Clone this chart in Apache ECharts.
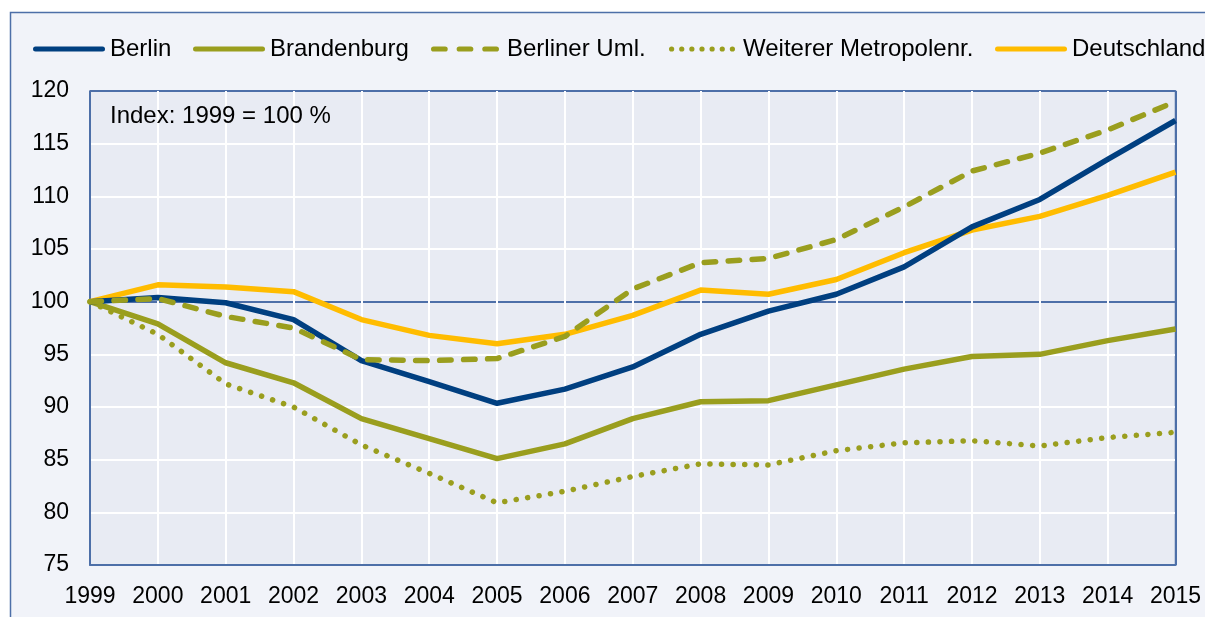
<!DOCTYPE html>
<html>
<head>
<meta charset="utf-8">
<script src="https://cdn.jsdelivr.net/npm/echarts@6/dist/echarts.min.js"></script>
<style>
html, body { margin: 0; padding: 0; background: #ffffff; }
#chart { width: 1205px; height: 617px; }
</style>
</head>
<body>
<div id="chart"></div>
<script>
// Index: 1999 = 100 %
var years = ['1999', '2000', '2001', '2002', '2003', '2004', '2005', '2006', '2007',
    '2008', '2009', '2010', '2011', '2012', '2013', '2014', '2015']
var berlin = [100, 100.4, 99.9, 98.3, 94.4, 92.4, 90.35, 91.7, 93.8, 96.9, 99.1, 100.7, 103.3, 107.1, 109.7, 113.5, 117.2]
var brandenburg = [100, 97.9, 94.2, 92.3, 88.9, 87.0, 85.1, 86.5, 88.9, 90.5, 90.6, 92.1, 93.6, 94.8, 95.0, 96.3, 97.4]
var berlinerUml = [100, 100.3, 98.6, 97.5, 94.5, 94.4, 94.6, 96.7, 101.2, 103.7, 104.1, 105.9, 109.0, 112.4, 114.1, 116.3, 119.0]
var weitererMetro = [100, 96.9, 92.2, 90.0, 86.4, 83.7, 80.9, 82.0, 83.4, 84.6, 84.5, 85.85, 86.6, 86.8, 86.3, 87.1, 87.6]
var deutschland = [100, 101.6, 101.4, 100.95, 98.3, 96.8, 96.0, 96.9, 98.7, 101.1, 100.7, 102.1, 104.65, 106.8, 108.1, 110.1, 112.3]
var yTicks = [75, 80, 85, 90, 95, 100, 105, 110, 115, 120]

var frameBlue = '#4d6fa8'
var navy = '#003f80'
var olive = '#9a9e1e'
var yellow = '#ffbc00'
var font = '"Liberation Sans", Arial, sans-serif'

// split line colours: border lines blue, 100-line blue, rest white
var ySplitColors = yTicks.map(function (v) {
    return (v === 100 || v === 120) ? frameBlue : '#ffffff'
})
var xSplitColors = years.map(function (y, i) {
    return (i === 0 || i === years.length - 1) ? frameBlue : '#ffffff'
})

// legend icons
function pill(x0, w) {
    return 'M' + (x0 + 2.5) + ',0 H' + (x0 + w - 2.5) + ' A2.5,2.5 0 0 1 ' + (x0 + w - 2.5) + ',5 H' +
        (x0 + 2.5) + ' A2.5,2.5 0 0 1 ' + (x0 + 2.5) + ',0 Z '
}
function dot(cx) {
    return 'M' + (cx - 2.5) + ',2.5 A2.5,2.5 0 1 0 ' + (cx + 2.5) + ',2.5 A2.5,2.5 0 1 0 ' + (cx - 2.5) + ',2.5 Z '
}
var solidIcon = 'path://' + pill(0, 72)
var dashIcon = 'path://' + pill(0, 16) + pill(24.5, 16) + pill(49, 16)
var dotIcon = 'path://'
for (var i = 0; i < 7; i++) dotIcon += dot(2.5 + i * 9.67)

function legendItem(name, left, icon, width, pad) {
    return {
        left: left,
        top: 32,
        itemWidth: width,
        itemHeight: 5.5,
        selectedMode: false,
        textStyle: { fontSize: 24, color: '#000000', fontFamily: font, padding: [0, 0, 0, pad || 0] },
        data: [{ name: name, icon: icon }]
    }
}

function lineSeries(name, data, color, type, width) {
    return {
        name: name,
        type: 'line',
        data: data,
        symbol: 'none',
        lineStyle: {
            color: color,
            width: width || 5.5,
            type: type || 'solid',
            cap: type ? 'round' : 'butt',
            join: 'round'
        },
        itemStyle: { color: color }
    }
}

var chart = echarts.init(document.getElementById('chart'))
var option = {
    backgroundColor: '#f1f3f9',
    animation: false,
    textStyle: { fontFamily: font },
    graphic: [
        { type: 'rect', shape: { x: 0, y: 0, width: 1205, height: 12 }, style: { fill: '#ffffff' }, silent: true },
        { type: 'rect', shape: { x: 0, y: 0, width: 10, height: 617 }, style: { fill: '#ffffff' }, silent: true },
        { type: 'polyline', shape: { points: [[10.5, 617], [10.5, 12.5], [1205, 12.5]] },
            style: { stroke: frameBlue, lineWidth: 1.5, fill: null }, silent: true },
        { type: 'text', left: 110, top: 104, z: 10,
            style: { text: 'Index: 1999 = 100 %', fontSize: 24, fontFamily: font, fill: '#000000' } }
    ],
    legend: [
        legendItem('Berlin', 28, solidIcon, 72),
        legendItem('Brandenburg', 188, solidIcon, 72),
        legendItem('Berliner Uml.', 426, dashIcon, 68, 3),
        legendItem('Weiterer Metropolenr.', 664, dotIcon, 66, 3),
        legendItem('Deutschland', 990, solidIcon, 72)
    ],
    grid: {
        left: 90,
        right: 29.5,
        top: 91,
        bottom: 52,
        show: true,
        backgroundColor: '#e8ebf3',
        borderColor: frameBlue,
        borderWidth: 1.5
    },
    xAxis: {
        type: 'category',
        data: years,
        boundaryGap: false,
        axisLine: { lineStyle: { color: frameBlue, width: 2 } },
        axisTick: { show: false },
        axisLabel: { color: '#000000', fontSize: 23, margin: 20, interval: 0 },
        splitLine: { show: true, lineStyle: { color: xSplitColors, width: 2 } }
    },
    yAxis: {
        type: 'value',
        min: 75,
        max: 120,
        interval: 5,
        axisLine: { show: false },
        axisTick: { show: false },
        axisLabel: { color: '#000000', fontSize: 23, margin: 21 },
        splitLine: { show: true, lineStyle: { color: ySplitColors, width: 2 } }
    },
    series: [
        lineSeries('Weiterer Metropolenr.', weitererMetro, olive, [0.1, 11.5]),
        lineSeries('Brandenburg', brandenburg, olive),
        lineSeries('Deutschland', deutschland, yellow),
        lineSeries('Berlin', berlin, navy),
        lineSeries('Berliner Uml.', berlinerUml, olive, [11.5, 12.5])
    ]
}
chart.setOption(option)
</script>
</body>
</html>
